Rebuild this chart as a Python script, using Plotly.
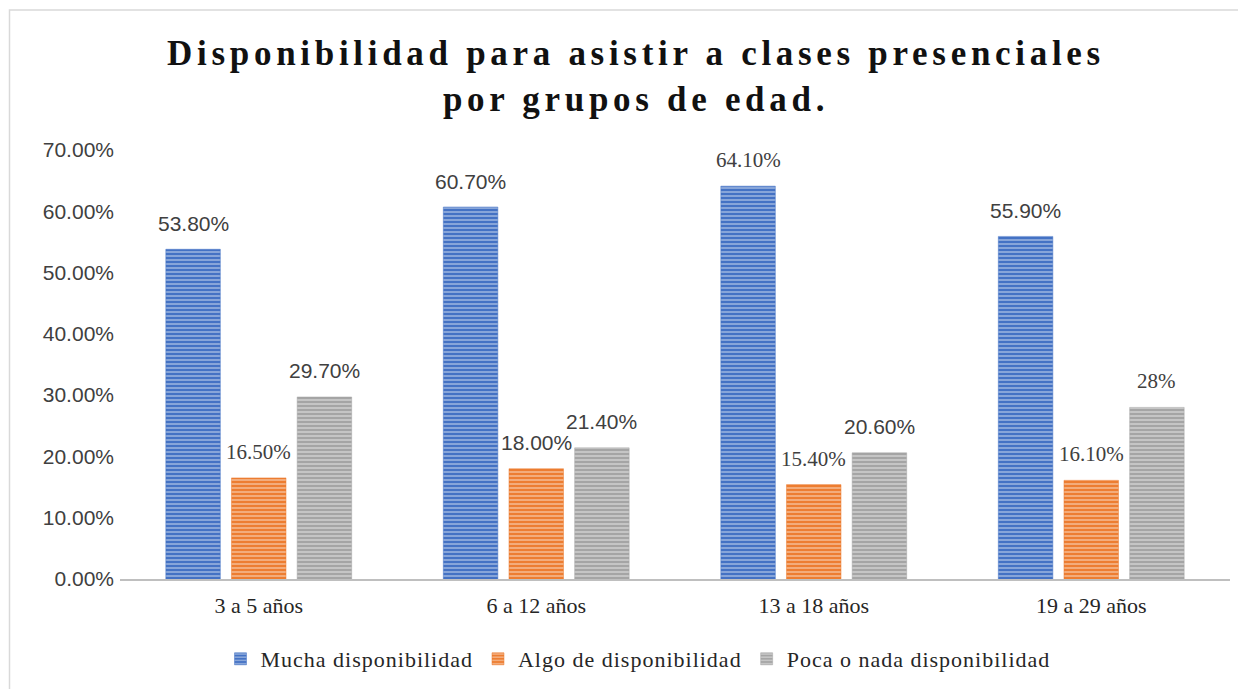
import plotly.graph_objects as go

categories = ["3 a 5 años", "6 a 12 años", "13 a 18 años", "19 a 29 años"]
series_names = ["Mucha disponibilidad", "Algo de disponibilidad", "Poca o nada disponibilidad"]
mucha = [0.538, 0.607, 0.641, 0.559]
algo = [0.165, 0.180, 0.154, 0.161]
poca = [0.297, 0.214, 0.206, 0.28]
mucha_labels = ["53.80%", "60.70%", "64.10%", "55.90%"]
algo_labels = ["16.50%", "18.00%", "15.40%", "16.10%"]
poca_labels = ["29.70%", "21.40%", "20.60%", "28%"]
y_ticks = [0, 0.1, 0.2, 0.3, 0.4, 0.5, 0.6, 0.7]

SANS = "Liberation Sans, Arial, sans-serif"
SERIF = "Liberation Serif, Times New Roman, serif"

colors = ["#4472C4", "#ED7D31", "#A5A5A5"]
values = [mucha, algo, poca]
labels = [mucha_labels, algo_labels, poca_labels]
label_fonts = [
    [SANS, SANS, SERIF, SANS],
    [SERIF, SANS, SERIF, SERIF],
    [SANS, SANS, SANS, SERIF],
]

# page has an 8px body offset; positions below are in figure coordinates
L, R, T, B = 112, 24, 142, 118
W, H = 1246, 689
pw, ph = W - L - R, H - T - B
BARGAP, GROUPGAP = 0.29, 0.17
slot_px = pw / len(categories) * (1 - BARGAP) / len(series_names)

fig = go.Figure()
annotations = []
for i, (name, vals, txt, col, fams) in enumerate(zip(series_names, values, labels, colors, label_fonts)):
    fig.add_trace(go.Bar(
        name='<span style="letter-spacing:1px">' + name + '</span>',
        x=categories, y=vals,
        marker=dict(
            color=col,
            line=dict(color=col, width=0.5),
            pattern=dict(shape="-", bgcolor=col, fgcolor="white",
                         fgopacity=0.45, size=4, solidity=0.4),
        ),
        hoverinfo="skip",
    ))
    for cat, v, t, fam in zip(categories, vals, txt, fams):
        annotations.append(dict(
            x=cat, y=v, xref="x", yref="y", text=t, showarrow=False,
            xanchor="center", yanchor="middle",
            xshift=(i - (len(series_names) - 1) / 2) * slot_px, yshift=26,
            font=dict(family=fam, size=21, color="#404040"),
        ))

fig.update_layout(
    width=W, height=H,
    margin=dict(l=L, r=R, t=T, b=B),
    paper_bgcolor="white", plot_bgcolor="white",
    barmode="group", bargap=BARGAP, bargroupgap=GROUPGAP,
    title=dict(
        text='<span style="letter-spacing:4.7px"><b>Disponibilidad para asistir a clases presenciales<br>por grupos de edad.</b></span>',
        x=(636 - 8) / W, xanchor="center", y=1 - 57 / H, yanchor="middle",
        font=dict(family=SERIF, size=35, color="#111111"),
    ),
    legend=dict(
        orientation="h", x=(638 - 8 - L) / pw, xanchor="center",
        y=(571 - 651) / ph, yanchor="middle",
        font=dict(family=SERIF, size=22, color="#262626"),
        traceorder="normal",
    ),
    xaxis=dict(
        showline=True, linecolor="#BFBFBF", linewidth=2, ticks="",
        tickfont=dict(family=SERIF, size=22, color="#262626"),
        showgrid=False, ticklabelstandoff=6,
    ),
    yaxis=dict(
        range=[0, 0.70], tickvals=y_ticks, tickformat=".2%",
        showgrid=False, showline=False, zeroline=False, ticks="",
        tickfont=dict(family=SANS, size=21, color="#404040"),
        ticklabelstandoff=5,
    ),
    annotations=annotations,
    shapes=[dict(
        type="rect", xref="paper", yref="paper",
        x0=(1.5 - L) / pw, x1=(W + 20 - L) / pw,
        y0=(H - B - (H + 20)) / ph, y1=(H - B - 2) / ph,
        line=dict(color="#D9D9D9", width=1.5), fillcolor="rgba(0,0,0,0)",
        layer="below",
    )],
    showlegend=True,
)

fig.write_html("out.html")
